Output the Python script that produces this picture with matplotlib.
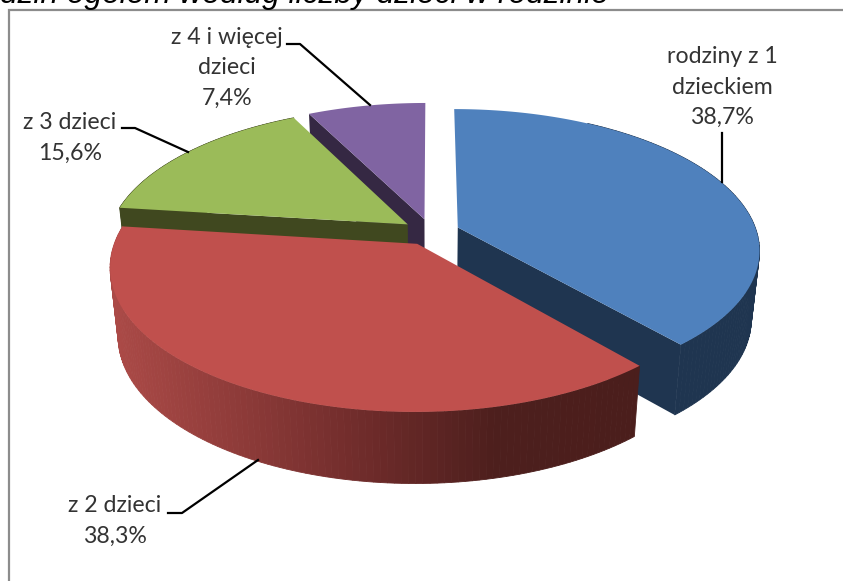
import numpy as np
import matplotlib
matplotlib.use("Agg")
import matplotlib.pyplot as plt
from matplotlib.colors import LinearSegmentedColormap

values = [38.7, 38.3, 15.6, 7.4]
top_colors = ["#4f81bd", "#c0504d", "#9bbb59", "#8064a2"]
side_colors = ["#1f3550", "#4d1f1d", "#40481f", "#352843"]
labels = ["rodziny z 1\ndzieckiem\n38,7%", "z 2 dzieci\n38,3%", "z 3 dzieci\n15,6%", "z 4 i więcej\ndzieci\n7,4%"]
title_text = "dzin ogółem według liczby dzieci w rodzinie"

# projection of the 3D pie, in pixels
cx, cy = 431, 232
rx, ry = 299, 138
persp = 0.155
explode = 0.096
height = 68
shrink_x, shrink_y = 0.975, 1.02

red_wall = LinearSegmentedColormap.from_list("red_wall", ["#ab4a47", "#8e3b39", "#6e2b2a", "#4d1f1d", "#4b1e1c"])


def project(x, y, bottom=False):
    s = 1 / (1 - persp * y)
    px = cx + rx * x * s
    py = cy + ry * y * s
    if bottom:
        px = cx + (px - cx) * shrink_x
        py = cy + height + (py - cy) * shrink_y
    return px, py


def rim(a0, a1, mid, n=120):
    # angles clockwise from 12 o'clock; y grows towards the viewer
    t = np.radians(np.linspace(a0, a1, n))
    ox, oy = explode * np.sin(mid), -explode * np.cos(mid)
    return np.sin(t) + ox, -np.cos(t) + oy, np.degrees(t)


fig = plt.figure(figsize=(8.43, 5.81), dpi=100)
ax = fig.add_axes([0, 0, 1, 1])
ax.set_xlim(0, 843)
ax.set_ylim(581, 0)
ax.axis("off")

# chart frame, cropped on the right and at the bottom
ax.plot([9, 9, 843], [581, 10, 10], color="#8c8c8c", linewidth=1.6, solid_joinstyle="miter")

angles = np.concatenate([[0], np.cumsum(values) / sum(values) * 360])

# back to front: purple, green, blue, red
for i in [3, 2, 0, 1]:
    a0, a1 = angles[i], angles[i + 1]
    mid = np.radians((a0 + a1) / 2)
    ox, oy = explode * np.sin(mid), -explode * np.cos(mid)
    rim_x, rim_y, rim_a = rim(a0, a1, mid)
    tx, ty = project(rim_x, rim_y)
    bx, by = project(rim_x, rim_y, bottom=True)
    ax_, ay_ = project(ox, oy)
    bax, bay = project(ox, oy, bottom=True)

    # radial side wall: blue shows its end edge, green and purple their start edge
    if i != 1:
        e = -1 if i == 0 else 0
        ax.fill([ax_, tx[e], bx[e], bax], [ay_, ty[e], by[e], bay], color=side_colors[i], linewidth=0)

    # outer wall, the back of the blue slice stays hidden
    for k in range(len(tx) - 1):
        if i == 0 and rim_a[k] < 30:
            continue
        if i == 3:
            continue
        c = red_wall(1 - np.clip((630 - tx[k]) / 520, 0, 1)) if i == 1 else side_colors[i]
        ax.fill([tx[k], tx[k + 1], bx[k + 1], bx[k]], [ty[k], ty[k + 1], by[k + 1], by[k]],
                facecolor=c, edgecolor=c, linewidth=0.6)

    ax.fill(np.r_[ax_, tx], np.r_[ay_, ty], color=top_colors[i], linewidth=0)

# leader lines
ax.plot([722, 722], [133, 182], color="black", linewidth=1.6)
ax.plot([168, 182, 258], [513, 513, 460], color="black", linewidth=1.6)
ax.plot([122, 135, 188], [128, 128, 152], color="black", linewidth=1.6)
ax.plot([287, 300, 370], [44, 44, 105], color="black", linewidth=1.6)

label_font = dict(family="Lato", fontsize=16.7, color="#333333", linespacing=1.56, ha="center", va="center")
ax.text(722, 87, labels[0], **label_font)
ax.text(115, 521, labels[1], **label_font)
ax.text(70, 138, labels[2], **label_font)
ax.text(227, 68, labels[3], **label_font)

ax.text(0, 3, title_text, family="Liberation Sans", style="italic", fontsize=22.8, color="black", ha="left", va="baseline")

fig.savefig("out.png", dpi=100)
